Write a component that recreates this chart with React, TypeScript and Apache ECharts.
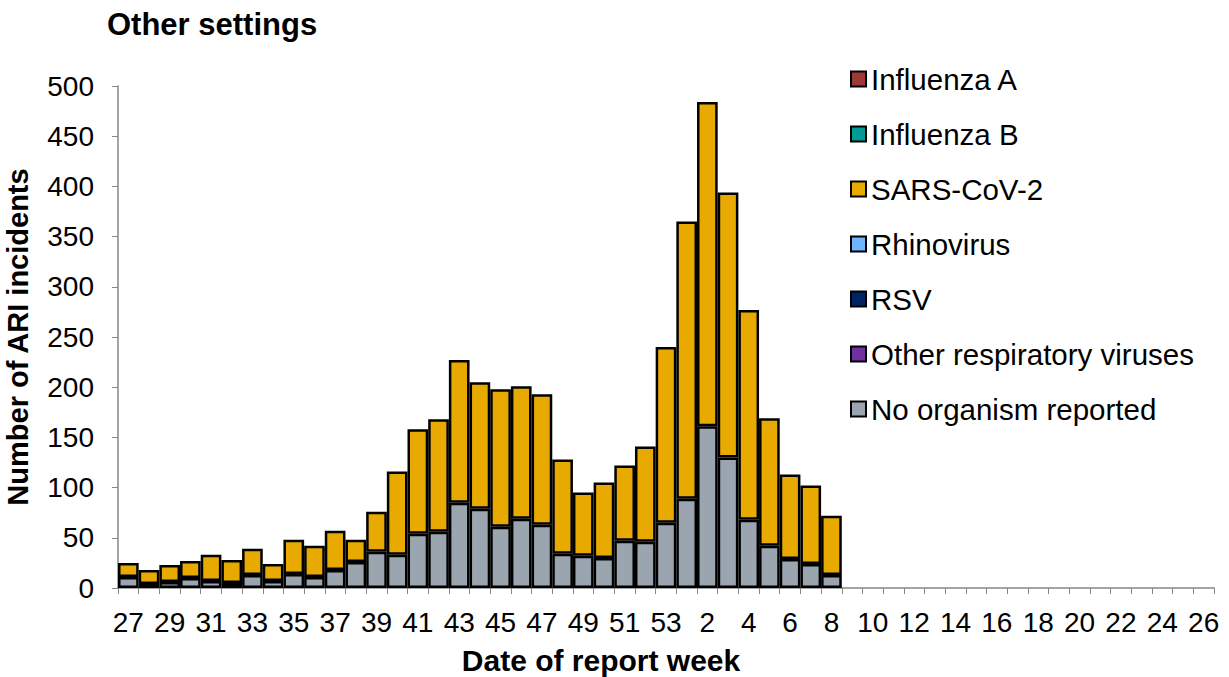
import React, { useEffect, useRef } from "react";
import * as echarts from "echarts";

const weeks = [
  "27","28","29","30","31","32","33","34","35","36","37","38","39","40","41","42","43","44","45","46","47","48","49","50","51","52","53",
  "1","2","3","4","5","6","7","8","9","10","11","12","13","14","15","16","17","18","19","20","21","22","23","24","25","26",
];

// Stacked values, one per week from week 27 through week 8
const noOrganism = [11, 4, 6, 10, 7, 5, 13, 7, 14, 11, 18, 26, 36, 33, 54, 56, 85, 79, 61, 69, 63, 34, 32, 30, 47, 46, 65, 89, 161, 130, 68, 42, 29, 24, 13];
const sarsCov2Totals = [25, 18, 23, 27, 33, 28, 39, 24, 48, 42, 57, 48, 76, 116, 158, 168, 227, 205, 198, 201, 193, 128, 95, 105, 122, 141, 240, 365, 484, 394, 277, 169, 113, 102, 72];
const sarsCov2 = sarsCov2Totals.map((t, i) => t - noOrganism[i]);
const influenzaA: number[] = [];
const influenzaB: number[] = [];
const rhinovirus: number[] = [];
const rsv: number[] = [];
const otherViruses: number[] = [];

const legendOrder = [
  "Influenza A",
  "Influenza B",
  "SARS-CoV-2",
  "Rhinovirus",
  "RSV",
  "Other respiratory viruses",
  "No organism reported",
];

const FONT = "Liberation Sans, Arial, sans-serif";

export default function App() {
  const ref = useRef<HTMLDivElement>(null);
  useEffect(() => {
    if (!ref.current) return;
    const chart = echarts.init(ref.current, undefined, { renderer: "svg" });
    const bar = (name: string, data: number[], color: string) => ({
      name,
      type: "bar",
      stack: "total",
      data,
      barCategoryGap: "0%",
      itemStyle: { color, borderColor: "#000", borderWidth: 2.5 },
    });
    chart.setOption({
      animation: false,
      textStyle: { fontFamily: FONT },
      title: {
        text: "Other settings",
        left: 102,
        top: 4,
        textStyle: { fontFamily: FONT, fontSize: 31, fontWeight: "bold", color: "#000" },
      },
      legend: {
        orient: "vertical",
        left: 845,
        top: 59,
        itemWidth: 15,
        itemHeight: 15,
        itemGap: 25,
        icon: "rect",
        data: legendOrder,
        textStyle: { fontFamily: FONT, fontSize: 29.5, color: "#000", lineHeight: 29 },
      },
      graphic: [
        {
          type: "text",
          x: 601,
          y: 660,
          style: {
            text: "Date of report week",
            fontFamily: FONT,
            fontSize: 30,
            fontWeight: "bold",
            fill: "#000",
            align: "center",
            verticalAlign: "middle",
          },
        },
      ],
      grid: { left: 118, right: 15, top: 86, bottom: 89, containLabel: false, outerBoundsMode: "none" },
      xAxis: {
        type: "category",
        data: weeks,
        axisLine: { lineStyle: { color: "#868686", width: 1.5 } },
        axisTick: { show: true, alignWithLabel: false, interval: 0, length: 6, lineStyle: { color: "#868686" } },
        axisLabel: { interval: 1, fontSize: 28, color: "#000", margin: 20, fontFamily: FONT },
      },
      yAxis: {
        type: "value",
        min: 0,
        max: 500,
        interval: 50,
        name: "Number of ARI incidents",
        nameLocation: "middle",
        nameGap: 86,
        nameRotate: 90,
        nameTextStyle: { fontFamily: FONT, fontSize: 29, fontWeight: "bold", color: "#000" },
        axisLine: { show: true, lineStyle: { color: "#868686", width: 1.5 } },
        axisTick: { show: true, length: 6, lineStyle: { color: "#868686" } },
        axisLabel: { fontSize: 28, color: "#000", margin: 24, fontFamily: FONT },
        splitLine: { show: false },
      },
      series: [
        bar("No organism reported", noOrganism, "#9AA5AF"),
        bar("SARS-CoV-2", sarsCov2, "#E8AA00"),
        bar("Influenza A", influenzaA, "#9B3A37"),
        bar("Influenza B", influenzaB, "#009C94"),
        bar("Rhinovirus", rhinovirus, "#6DB6FF"),
        bar("RSV", rsv, "#002366"),
        bar("Other respiratory viruses", otherViruses, "#7030A0"),
      ],
    });
    return () => chart.dispose();
  }, []);
  return <div ref={ref} style={{ width: 1229, height: 677, position: "absolute", left: 0, top: 0 }} />;
}
